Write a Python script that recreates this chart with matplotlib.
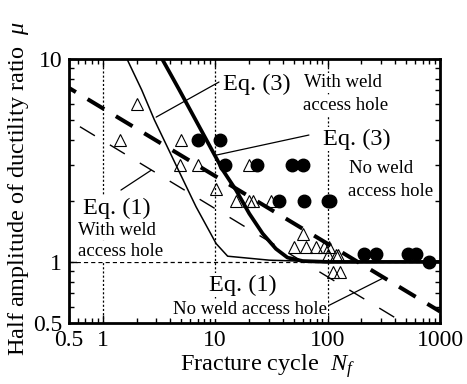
import numpy as np
import matplotlib
matplotlib.use('Agg')
import matplotlib.pyplot as plt
from matplotlib.ticker import FixedLocator, FixedFormatter, NullFormatter

plt.rcParams['font.family'] = 'Liberation Serif'
plt.rcParams['mathtext.fontset'] = 'custom'
plt.rcParams['mathtext.rm'] = 'Liberation Serif'
plt.rcParams['mathtext.it'] = 'Liberation Serif:italic'
plt.rcParams['lines.scale_dashes'] = False

# test data
tri_N = [1.43, 2.02, 5.0, 4.9, 7.0, 10.1, 20.1, 15.3, 20.1, 21.5, 31.3, 61,
         50.5, 64, 79, 93, 103, 100, 118, 124, 111, 130]
tri_mu = [4.0, 6.0, 4.0, 3.0, 3.0, 2.3, 3.0, 2.0, 2.0, 2.0, 2.0, 1.38,
          1.19, 1.19, 1.19, 1.19, 1.19, 1.08, 1.08, 1.08, 0.89, 0.89]
circ_N = [7.07, 11.1, 12.2, 23.5, 48.6, 60, 37, 62, 100, 106, 211, 269, 514, 610, 800]
circ_mu = [4.0, 4.0, 3.0, 3.0, 3.0, 3.0, 2.0, 2.0, 2.0, 2.0, 1.09, 1.09, 1.09, 1.09, 1.0]

# design curves
eq3w_N = [3.37, 4.8, 11.7, 15.3, 20.1, 26.4, 34.7, 44, 60, 100, 1000]
eq3w_mu = [10, 7.03, 2.83, 2.26, 1.73, 1.38, 1.16, 1.05, 1.01, 1.0, 1.0]
eq1w_N = [1.64, 2.22, 2.88, 6.31, 6.75, 10.2, 12.9, 30.3, 100, 1000]
eq1w_mu = [10, 7.03, 5.0, 2.02, 1.87, 1.23, 1.067, 1.02, 1.0, 1.0]
eq3n_N = [0.5, 1000]
eq3n_mu = [7.2, 0.57]
eq1n_N = [0.5, 1000]
eq1n_mu = [5.0, 0.39]

xticks = [0.5, 1, 10, 100, 1000]
xticklabels = ['0.5', '1', '10', '100', '1000']
yticks = [0.5, 1, 10]
yticklabels = ['0.5', '1', '10']

fig = plt.figure(figsize=(4.67, 3.84), dpi=100)
ax = fig.add_axes([69/467, 1-323/384, 371/467, 264/384])
ax.set_xscale('log')
ax.set_yscale('log')

for xv in [1, 10, 100]:
    ax.axvline(xv, color='k', lw=0.9, ls=(0, (1.5, 1.5)), zorder=1)
ax.axhline(1, color='k', lw=0.9, ls=(0, (3, 2.2)), zorder=1)

ax.plot(eq1n_N, eq1n_mu, color='k', lw=1.0, ls=(16, (12.6, 12.6)), zorder=2)
ax.plot(eq3n_N, eq3n_mu, color='k', lw=2.9, ls=(8.2, (14, 9.8)), zorder=2)
ax.plot(eq1w_N, eq1w_mu, color='k', lw=1.1, zorder=2)
ax.plot(eq3w_N, eq3w_mu, color='k', lw=2.7, zorder=2)

ax.plot(tri_N, tri_mu, ls='none', marker='^', ms=8.5, mfc='none', mec='k', mew=0.8, zorder=3)
ax.plot(circ_N, circ_mu, ls='none', marker='o', ms=9, mfc='k', mec='k', zorder=3)

# annotations
box = dict(fc='white', ec='none', pad=1.0)
big = 17.5
small = 13.5
lead = dict(arrowstyle='-', color='k', lw=0.9, shrinkA=0, shrinkB=0)
ax.annotate('', xy=(2.98, 5.17), xytext=(10.8, 7.7), arrowprops=lead, zorder=4)
ax.annotate('', xy=(10.2, 3.36), xytext=(68.2, 4.22), arrowprops=lead, zorder=4)
ax.annotate('', xy=(2.69, 2.83), xytext=(1.45, 2.26), arrowprops=lead, zorder=4)
ax.annotate('', xy=(310, 0.831), xytext=(103, 0.611), arrowprops=lead, zorder=4)

ax.text(11.8, 7.53, 'Eq. (3)', fontsize=big, ha='left', va='center', bbox=box, zorder=5)
ax.text(61.2, 7.62, 'With weld', fontsize=small, ha='left', va='center', bbox=box, zorder=5)
ax.text(60.7, 5.87, 'access hole', fontsize=small, ha='left', va='center', bbox=box, zorder=5)
ax.text(90.3, 4.03, 'Eq. (3)', fontsize=big, ha='left', va='center', bbox=box, zorder=5)
ax.text(154.6, 2.90, 'No weld', fontsize=small, ha='left', va='center', bbox=box, zorder=5)
ax.text(150.6, 2.23, 'access hole', fontsize=small, ha='left', va='center', bbox=box, zorder=5)
ax.text(0.664, 1.84, 'Eq. (1)', fontsize=big, ha='left', va='center', bbox=box, zorder=5)
ax.text(0.6, 1.43, 'With weld', fontsize=small, ha='left', va='center', bbox=box, zorder=5)
ax.text(0.6, 1.12, 'access hole', fontsize=small, ha='left', va='center', bbox=box, zorder=5)
ax.text(8.81, 0.768, 'Eq. (1)', fontsize=big, ha='left', va='center', bbox=box, zorder=5)
ax.text(4.19, 0.584, 'No weld access hole', fontsize=small, ha='left', va='center', bbox=box, zorder=5)

ax.set_xlim(0.5, 1000)
ax.set_ylim(0.5, 10)

xminor = [m*d for d in [0.1, 1, 10, 100] for m in range(2, 10) if 0.5 < m*d < 1000]
yminor = [m*d for d in [0.1, 1] for m in range(2, 10) if 0.5 < m*d < 10]
ax.xaxis.set_major_locator(FixedLocator(xticks))
ax.xaxis.set_major_formatter(FixedFormatter(xticklabels))
ax.xaxis.set_minor_locator(FixedLocator(xminor))
ax.xaxis.set_minor_formatter(NullFormatter())
ax.yaxis.set_major_locator(FixedLocator(yticks))
ax.yaxis.set_major_formatter(FixedFormatter(yticklabels))
ax.yaxis.set_minor_locator(FixedLocator(yminor))
ax.yaxis.set_minor_formatter(NullFormatter())

ax.tick_params(which='both', direction='in', top=True, right=True, width=1.0)
ax.tick_params(which='major', length=5.5, labelsize=17, pad=5)
ax.tick_params(which='minor', length=3.5)
for sp in ax.spines.values():
    sp.set_linewidth(2.0)

ax.set_xlabel('Fracture cycle  $N_f$', fontsize=17.5)
ax.set_ylabel('Half amplitude of ductility ratio  $\\mu$', fontsize=17.5)
ax.xaxis.set_label_coords(0.534, -0.112)
ax.yaxis.set_label_coords(-0.102, 0.51)

plt.savefig('out.png', dpi=100)
